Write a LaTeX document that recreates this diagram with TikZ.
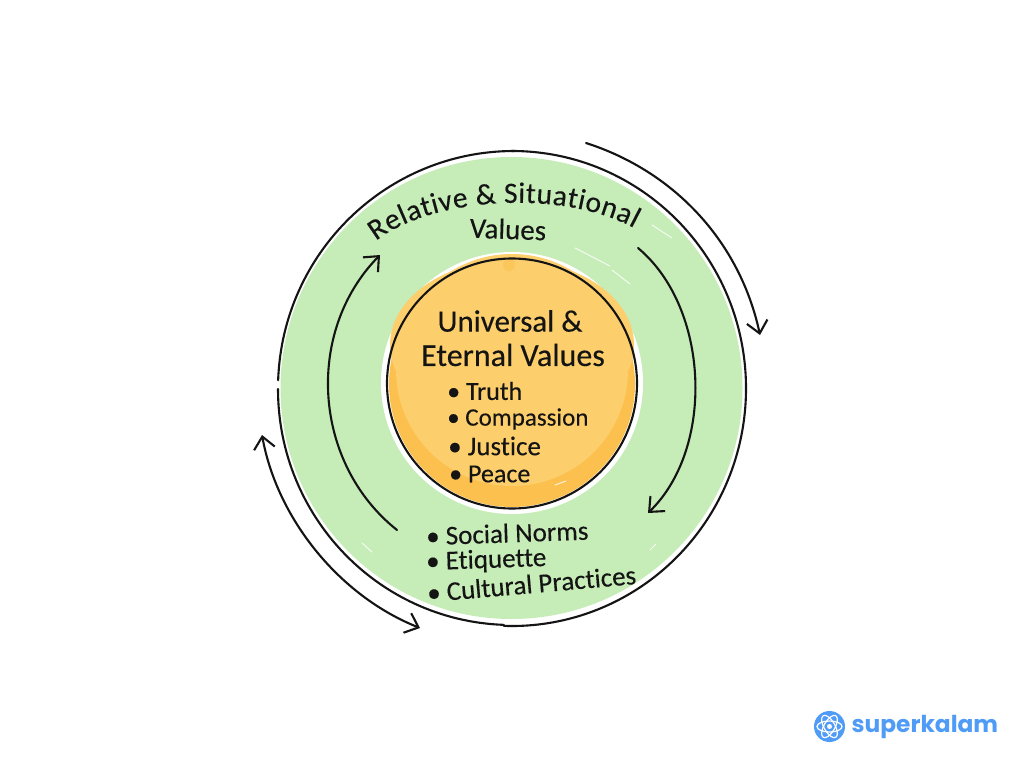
\documentclass[tikz,border=0pt]{standalone}
\usepackage{fontspec}
\setmainfont{Carlito}[Ligatures=NoCommon,FakeBold=0.25]
\newfontfamily\logofont{Poppins}
\usetikzlibrary{arrows.meta,decorations.text,calc}
\definecolor{ringgreen}{HTML}{C6ECB8}
\definecolor{coreorange}{HTML}{FDCF6C}
\definecolor{coredark}{HTML}{FBC04E}
\definecolor{logoblue}{HTML}{4F9BF6}
\definecolor{inkblack}{HTML}{141414}
\tikzset{
  ink/.style={draw=inkblack,line width=2.1pt,line cap=round},
  cyclearrow/.style={ink,-{Straight Barb[length=12pt,width=21pt,line width=2.1pt]}},
  bothways/.style={ink,{Straight Barb[length=12pt,width=21pt,line width=2.1pt]}-{Straight Barb[length=12pt,width=21pt,line width=2.1pt]}},
  heading/.style={font=\fontsize{31}{34}\selectfont,text=inkblack,align=center,inner sep=0pt},
  item/.style={font=\fontsize{26}{28}\selectfont,text=inkblack,anchor=west,inner sep=0pt},
  ringitem/.style={font=\fontsize{27}{28}\selectfont,text=inkblack,anchor=west,inner sep=0pt},
  shine/.style={draw=white,line width=1pt,line cap=round,opacity=.8},
}
\begin{document}
\begin{tikzpicture}[x=1pt,y=-1pt]
\useasboundingbox (0,0) rectangle (1024,768);
\fill[white] (0,0) rectangle (1024,768);
% green ring
\fill[ringgreen] (511.5,388) circle[radius=231];
\fill[white] (512,383) circle[radius=131];
% orange core
\fill[coredark] (512,384) circle[radius=123];
\fill[coreorange] (512,370) circle[radius=116];
\fill[coreorange] (512,345) ellipse[x radius=122,y radius=85];
\fill[coredark,opacity=.6] (509,265) circle[radius=6];
% outlines
\draw[ink] (512,151) arc[start angle=-90,end angle=92,x radius=234,y radius=237.5];
\draw[ink] (514,151) arc[start angle=-90,end angle=-178,x radius=236,y radius=237.5];
\draw[ink] (278,389) arc[start angle=180,end angle=92,x radius=234,y radius=236];
\draw[ink] (512,258.5) arc[start angle=-90,end angle=270,radius=125];
% highlights
\draw[shine] (575,248) -- (610,266);
\draw[shine] (612,270) -- (630,284);
\draw[shine] (652,225) -- (672,238);
\draw[shine] (362,543) -- (372,552);
\draw[shine] (650,550) -- (656,544);
\draw[shine] (555,485) -- (566,481);
% cycle arrows
\coordinate (outerRa) at (586,143);
\coordinate (outerRb) at (760,335);
\coordinate (outerLa) at (262,435);
\coordinate (outerLb) at (420,628);
\coordinate (innerLa) at (397,530);
\coordinate (innerLb) at (380,255);
\coordinate (innerRa) at (638,248);
\coordinate (innerRb) at (648,513);
\draw[cyclearrow] (outerRa) to[bend left=30,looseness=.93] (outerRb);
\draw[bothways] (outerLa) to[bend right=29,looseness=.88] (outerLb);
\draw[cyclearrow] (innerLa) to[bend left=48] (innerLb);
\draw[cyclearrow] (innerRa) to[bend left=48,looseness=.9] (innerRb);
% ring title
\coordinate (titleA) at (376,241);
\coordinate (titleB) at (634,228);
\path[decorate,decoration={text along path,text align=fit to path,
  text={|\fontsize{29.5}{32}\selectfont\color{inkblack}|Relative {\&} Situational}}]
  (titleA) .. controls (430,198) and (560,188) .. (titleB);
\node[heading,font=\fontsize{29}{30}\selectfont,rotate=-2] (values) at (508,229) {Values};
% core text
\node[heading] (universal) at (510,321) {Universal \&};
\node[heading,font=\fontsize{32}{34}\selectfont] (eternal) at (513,355) {Eternal Values};
\node[item] (truth) at (447,391) {• Truth};
\node[item,font=\fontsize{25}{28}\selectfont] (compassion) at (447,419) {• Compassion};
\node[item,font=\fontsize{27}{28}\selectfont] (justice) at (448,446) {• Justice};
\node[item] (peace) at (449,474) {• Peace};
% ring list
\node[ringitem,rotate=2] (norms) at (426,536) {• Social Norms};
\node[ringitem,rotate=2] (etiquette) at (426,563) {• Etiquette};
\node[ringitem,rotate=5] (cultural) at (427,593) {• Cultural Practices};
% logo
\node[circle,fill=logoblue,minimum size=31pt,inner sep=0pt] (logomark) at (829.5,726.5) {};
\foreach \a in {0,60,120}{
  \draw[white,line width=1.2pt,rotate around={\a:(829.5,726.5)}] (829.5,726.5) ellipse[x radius=12.5,y radius=5.5];
}
\fill[white] (829.5,726.5) circle[radius=2.5];
\node[font=\logofont\bfseries\fontsize{23.3}{26}\selectfont,text=logoblue,anchor=west,inner sep=0pt] (logotext) at (851.5,727) {superkalam};
\end{tikzpicture}
\end{document}
